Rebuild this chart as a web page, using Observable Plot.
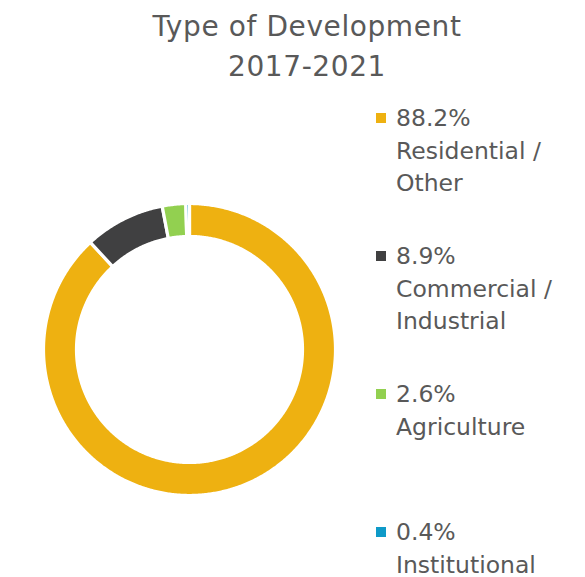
<!DOCTYPE html>
<html><head><meta charset="utf-8">
<script src="https://cdn.jsdelivr.net/npm/d3@7"></script>
<script src="https://cdn.jsdelivr.net/npm/@observablehq/plot@0.6"></script>
<style>
body{margin:0;width:585px;height:577px;position:relative;background:#fff;font-family:"DejaVu Sans",sans-serif;color:#595959;overflow:hidden}
#title{position:absolute;left:107px;width:400px;top:6.5px;text-align:center;font-size:28px;letter-spacing:0.6px;line-height:40px;}
#chart{position:absolute;left:39px;top:199px;}
#legend{position:absolute;left:376px;top:102px;}
.entry{height:138px;display:flex;align-items:flex-start;}
.sw{width:10px;height:10px;margin-top:11px;flex:none;}
.txt{margin-left:10px;font-size:23.5px;line-height:32.5px;white-space:nowrap;}
</style></head><body>
<div id="title">Type of Development<br>2017-2021</div>
<div id="chart"></div>
<div id="legend"></div>
<script>
const categories = ["Residential / Other", "Commercial / Industrial", "Agriculture", "Institutional"];
const shares = [88.2, 8.9, 2.6, 0.4];
const shareLabels = ["88.2%", "8.9%", "2.6%", "0.4%"];
const legendLines = [["Residential /", "Other"], ["Commercial /", "Industrial"], ["Agriculture"], ["Institutional"]];
const colors = ["#EEB111", "#404041", "#92D050", "#0E9AC8"];

const outerR = 146, innerR = 113;
const data = categories.map((c, i) => ({category: c, share: shares[i]}));
const arcs = d3.pie().sort(null).value(d => d.share)(data);

const pts = [];
const step = Math.PI / 360;
for (const a of arcs) {
  const c = a.data.category;
  const ring = [];
  const n = Math.max(2, Math.ceil((a.endAngle - a.startAngle) / step));
  for (let k = 0; k <= n; k++) {
    const t = a.startAngle + (a.endAngle - a.startAngle) * k / n;
    ring.push({category: c, x: outerR * Math.sin(t), y: outerR * Math.cos(t)});
  }
  for (let k = n; k >= 0; k--) {
    const t = a.startAngle + (a.endAngle - a.startAngle) * k / n;
    ring.push({category: c, x: innerR * Math.sin(t), y: innerR * Math.cos(t)});
  }
  ring.push({...ring[0]});
  pts.push(...ring);
}

const chart = Plot.plot({
  width: 300, height: 300, margin: 0,
  x: {domain: [-150, 150], axis: null},
  y: {domain: [-150, 150], axis: null},
  color: {domain: categories, range: colors},
  marks: [
    Plot.line(pts, {x: "x", y: "y", z: "category", fill: "category", stroke: "white", strokeWidth: 3.2, curve: "linear"})
  ]
});
document.getElementById("chart").appendChild(chart);

const legend = document.getElementById("legend");
categories.forEach((c, i) => {
  const e = document.createElement("div");
  e.className = "entry";
  const sw = document.createElement("div");
  sw.className = "sw";
  sw.style.background = colors[i];
  const tx = document.createElement("div");
  tx.className = "txt";
  tx.innerHTML = [shareLabels[i], ...legendLines[i]].join("<br>");
  e.appendChild(sw); e.appendChild(tx);
  legend.appendChild(e);
});
</script>
</body></html>
